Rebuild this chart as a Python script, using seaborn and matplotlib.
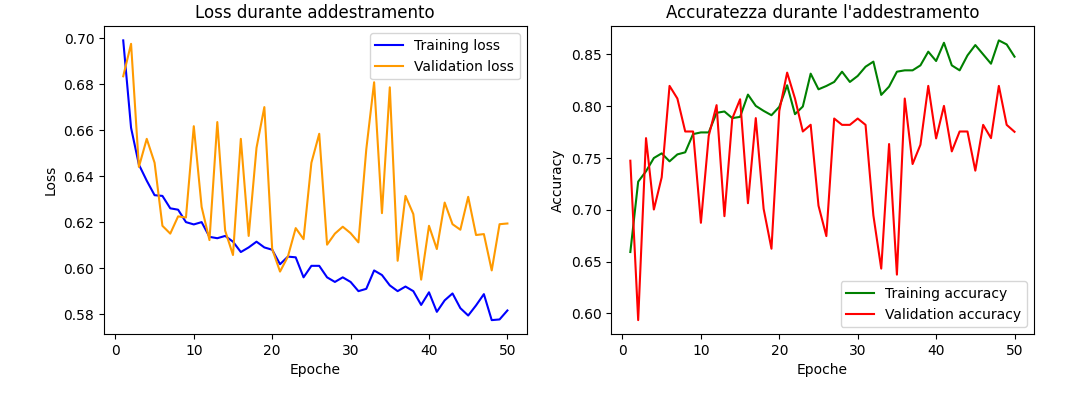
import matplotlib
matplotlib.use("Agg")
import matplotlib.pyplot as plt
import seaborn as sns
import numpy as np

epochs = list(range(1, 51))

train_loss = [0.699, 0.661, 0.645, 0.638, 0.6317, 0.6314, 0.626, 0.6254, 0.620, 0.619,
              0.620, 0.6136, 0.613, 0.614, 0.6115, 0.607, 0.609, 0.6115, 0.609, 0.608,
              0.6017, 0.605, 0.6047, 0.596, 0.601, 0.601, 0.596, 0.594, 0.596, 0.594,
              0.590, 0.591, 0.599, 0.597, 0.5925, 0.590, 0.592, 0.590, 0.584, 0.5895,
              0.581, 0.586, 0.589, 0.5826, 0.5794, 0.5838, 0.5887, 0.5774, 0.5777, 0.5816]

val_loss = [0.6834, 0.6975, 0.644, 0.6562, 0.6458, 0.6184, 0.615, 0.6225, 0.622, 0.6617,
            0.6266, 0.6122, 0.6635, 0.6163, 0.6057, 0.6562, 0.614, 0.6523, 0.670, 0.6083,
            0.5985, 0.605, 0.6174, 0.6126, 0.6458, 0.6584, 0.6102, 0.615, 0.618, 0.6152,
            0.6112, 0.6516, 0.6808, 0.6239, 0.6786, 0.6032, 0.6314, 0.6235, 0.595, 0.6184,
            0.6083, 0.6285, 0.6191, 0.6167, 0.631, 0.6144, 0.6148, 0.599, 0.6191, 0.6194]

train_acc = [0.6593, 0.7272, 0.7372, 0.750, 0.7545, 0.7468, 0.7535, 0.7555, 0.7731, 0.7747,
             0.7747, 0.7936, 0.7949, 0.7885, 0.7897, 0.8112, 0.8003, 0.7955, 0.7913, 0.7994,
             0.8202, 0.7923, 0.7997, 0.8314, 0.8163, 0.8195, 0.8234, 0.8333, 0.8234, 0.8292,
             0.8381, 0.843, 0.8109, 0.8189, 0.8333, 0.8346, 0.8346, 0.8394, 0.8526, 0.8436,
             0.8612, 0.8394, 0.8346, 0.849, 0.859, 0.850, 0.841, 0.8635, 0.8596, 0.8478]

val_acc = [0.7474, 0.5936, 0.7692, 0.7003, 0.7314, 0.8196, 0.8074, 0.7756, 0.7756, 0.6875,
           0.7715, 0.801, 0.6939, 0.7881, 0.8067, 0.7064, 0.7885, 0.701, 0.6625, 0.7955,
           0.8324, 0.8074, 0.7756, 0.7821, 0.7040, 0.6747, 0.7881, 0.782, 0.782, 0.7881,
           0.782, 0.6946, 0.6433, 0.7635, 0.6375, 0.8074, 0.7442, 0.7628, 0.8196, 0.7689,
           0.8003, 0.7564, 0.7756, 0.7756, 0.7378, 0.782, 0.7692, 0.8196, 0.782, 0.7753]

fig, axs = plt.subplots(1, 2, figsize=(10.69, 3.94), dpi=100)
fig.subplots_adjust(left=0.0973, right=0.967, top=0.933, bottom=0.152, wspace=0.2)

sns.lineplot(x=epochs, y=train_loss, color="blue", label="Training loss", ax=axs[0])
sns.lineplot(x=epochs, y=val_loss, color="#ff9a00", label="Validation loss", ax=axs[0])
axs[0].set_title("Loss durante addestramento")
axs[0].set_xlabel("Epoche")
axs[0].set_ylabel("Loss")
axs[0].legend(loc="upper right")

sns.lineplot(x=epochs, y=train_acc, color="green", label="Training accuracy", ax=axs[1])
sns.lineplot(x=epochs, y=val_acc, color="red", label="Validation accuracy", ax=axs[1])
axs[1].set_title("Accuratezza durante l'addestramento")
axs[1].set_xlabel("Epoche")
axs[1].set_ylabel("Accuracy")
axs[1].legend(loc="lower right")

fig.savefig("out.png", dpi=100)
